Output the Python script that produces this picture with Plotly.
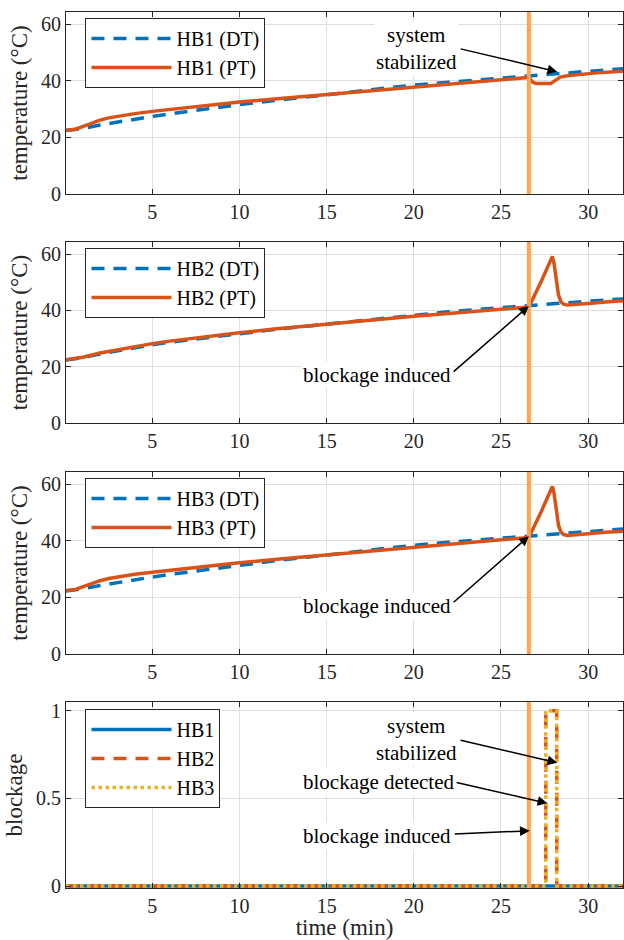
import plotly.graph_objects as go
from plotly.subplots import make_subplots

FONT = "Liberation Serif"
BLUE = "#0072BD"
ORANGE = "#D95319"
YELLOW = "#EDB120"
MARK = "#FFA64D"
AXC = "#262626"
GRID = "#DFDFDF"

# ---- time grids (min) ----
t_dt = [0.05, 1, 2, 3, 4, 5, 6, 8, 10, 12, 14, 16, 18, 20, 22, 24, 26, 28, 30, 32]

# ---- HB1 temperatures (degC) ----
hb1_dt = [22.4, 23.1, 24.4, 25.5, 26.5, 27.4, 28.3, 30.0, 31.6, 33.0, 34.4, 35.8, 37.2,
          38.5, 39.5, 40.5, 41.5, 42.5, 43.4, 44.3]
t_hb1_pt = [0.05, 0.6, 1.0, 1.5, 2.0, 2.5, 3.0, 4.0, 5.0, 6.0, 8.0, 10.0, 12.0, 14.0, 16.0,
            18.0, 20.0, 22.0, 24.0, 26.0, 26.6, 26.8, 27.0, 27.85, 28.0, 28.2, 28.4, 28.8,
            29.5, 30.5, 31.5, 32.0]
hb1_pt = [22.5, 22.9, 23.8, 25.0, 26.1, 26.9, 27.5, 28.4, 29.2, 29.9, 31.3, 32.5, 33.6, 34.6,
          35.6, 36.6, 37.8, 38.8, 39.8, 40.9, 41.2, 39.6, 39.0, 39.0, 39.6, 40.7, 41.3, 41.8,
          42.3, 42.8, 43.2, 43.4]

# ---- HB2 temperatures (degC) ----
hb2_dt = [22.4, 23.2, 24.5, 25.7, 26.8, 27.8, 28.7, 30.3, 31.8, 33.2, 34.5, 35.8, 37.1,
          38.4, 39.5, 40.5, 41.5, 42.5, 43.3, 44.1]
t_hb2_pt = [0.05, 1, 2, 3, 4, 5, 6, 8, 10, 12, 14, 16, 18, 20, 22, 24, 26, 26.6, 27.3, 27.95,
            28.05, 28.15, 28.3, 28.45, 28.6, 28.8, 29.2, 30, 31, 32]
hb2_pt = [22.5, 23.4, 24.9, 26.1, 27.2, 28.2, 29.1, 30.7, 32.1, 33.4, 34.6, 35.7, 36.8, 37.9,
          38.9, 39.9, 40.9, 41.2, 50.2, 59.2, 56.5, 51.5, 45.5, 43.0, 42.2, 41.9, 42.0, 42.5,
          43.0, 43.4]

# ---- HB3 temperatures (degC) ----
hb3_dt = [22.3, 23.0, 24.2, 25.3, 26.3, 27.2, 28.1, 29.8, 31.5, 32.9, 34.3, 35.7, 37.1,
          38.4, 39.5, 40.5, 41.5, 42.5, 43.4, 44.2]
t_hb3_pt = [0.05, 0.6, 1.0, 1.5, 2.0, 2.5, 3.0, 4.0, 5.0, 6.0, 8.0, 10.0, 12.0, 14.0, 16.0,
            18.0, 20.0, 22.0, 24.0, 26.0, 26.6, 27.3, 27.95, 28.05, 28.15, 28.3, 28.45, 28.6,
            28.8, 29.2, 30, 31, 32]
hb3_pt = [22.4, 22.8, 23.7, 24.9, 25.9, 26.7, 27.3, 28.2, 28.9, 29.6, 31.0, 32.2, 33.4, 34.5,
          35.6, 36.7, 37.8, 38.8, 39.8, 40.9, 41.2, 50.2, 59.2, 56.5, 51.5, 45.5, 43.0, 42.2,
          41.9, 42.0, 42.5, 43.0, 43.4]

# ---- blockage flags ----
t_blk1 = [0.05, 32]
blk1 = [0, 0]
t_blk = [0.05, 27.57, 27.57, 28.2, 28.2, 32]
blk2 = [0, 0, 1, 1, 0, 0]
blk3 = [0, 0, 1, 1, 0, 0]

induced_t = 26.6  # blockage induced (min)

x_ticks = [5, 10, 15, 20, 25, 30]
temp_ticks = [0, 20, 40, 60]
blk_ticks = [0, 0.5, 1]
x_range = [0.05, 32]
temp_range = [0, 64.3]
blk_range = [-0.0114, 1.0496]   # small pad below 0 so the flat flag lines are not clipped

# arrow annotations: (row, text x, text y, text, tail x, tail y, head x, head y)
notes = [
    (1, 20.14, 51.4, "system<br>stabilized", 22.6, 51.4, 28.23, 43.2),
    (2, 17.88, 16.9, "blockage induced", 22.2, 17.8, 26.6, 41.6),
    (3, 17.88, 16.9, "blockage induced", 22.2, 17.8, 26.6, 41.6),
    (4, 20.14, 0.837, "system<br>stabilized", 22.6, 0.833, 28.23, 0.703),
    (4, 17.96, 0.595, "blockage detected", 22.37, 0.593, 27.66, 0.472),
    (4, 17.88, 0.287, "blockage induced", 22.26, 0.297, 26.65, 0.315),
]

fig = make_subplots(rows=4, cols=1)

LW = 3.5
DASH = "13px,9px"

temp_sets = [
    ("HB1", hb1_dt, t_hb1_pt, hb1_pt),
    ("HB2", hb2_dt, t_hb2_pt, hb2_pt),
    ("HB3", hb3_dt, t_hb3_pt, hb3_pt),
]
legend_ids = ["legend", "legend2", "legend3", "legend4"]

for i, (name, dt, tpt, pt) in enumerate(temp_sets):
    row = i + 1
    fig.add_trace(go.Scatter(x=t_dt, y=dt, mode="lines", name=f"{name} (DT)",
                             line=dict(color=BLUE, width=LW, dash=DASH),
                             legend=legend_ids[i]), row=row, col=1)
    fig.add_trace(go.Scatter(x=tpt, y=pt, mode="lines", name=f"{name} (PT)",
                             line=dict(color=ORANGE, width=LW),
                             legend=legend_ids[i]), row=row, col=1)

fig.add_trace(go.Scatter(x=t_blk1, y=blk1, mode="lines", name="HB1",
                         line=dict(color=BLUE, width=LW), legend="legend4"), row=4, col=1)
fig.add_trace(go.Scatter(x=t_blk, y=blk2, mode="lines", name="HB2",
                         line=dict(color=ORANGE, width=LW, dash=DASH),
                         legend="legend4"), row=4, col=1)
fig.add_trace(go.Scatter(x=t_blk, y=blk3, mode="lines", name="HB3",
                         line=dict(color=YELLOW, width=LW, dash="dot"),
                         legend="legend4"), row=4, col=1)

# vertical marker where blockage is induced
for row in range(1, 5):
    xr = "x" if row == 1 else f"x{row}"
    yr = "y" if row == 1 else f"y{row}"
    fig.add_shape(type="line", x0=induced_t, x1=induced_t, y0=0, y1=1,
                  xref=xr, yref=f"{yr} domain", line=dict(color=MARK, width=4))

# panel geometry
domains = [[0.7922, 1.0], [0.5308, 0.7374], [0.2671, 0.4749], [0.0, 0.2123]]
legend_tops = [0.9932, 0.7306, 0.4680, 0.2043]

axis_common = dict(
    showline=True, linecolor=AXC, linewidth=1, mirror="ticks",
    ticks="inside", ticklen=5, tickcolor=AXC, tickwidth=1,
    showgrid=True, gridcolor=GRID, gridwidth=1, zeroline=False,
    tickfont=dict(family=FONT, size=20, color=AXC),
)

for row in range(1, 5):
    fig.update_xaxes(range=x_range, tickvals=x_ticks, domain=[0, 1], **axis_common,
                     row=row, col=1)
    ydom = domains[row - 1]
    if row < 4:
        fig.update_yaxes(range=temp_range, tickvals=temp_ticks, domain=ydom,
                         title=dict(text="temperature (°C)",
                                    font=dict(family=FONT, size=23, color=AXC), standoff=6),
                         **axis_common, row=row, col=1)
    else:
        fig.update_yaxes(range=blk_range, tickvals=blk_ticks, ticktext=["0", "0.5", "1"],
                         domain=ydom,
                         title=dict(text="blockage",
                                    font=dict(family=FONT, size=23, color=AXC), standoff=6),
                         **axis_common, row=row, col=1)

fig.update_xaxes(title=dict(text="time (min)", font=dict(family=FONT, size=23, color=AXC),
                            standoff=2), row=4, col=1)

legend_style = dict(
    x=0.035, xanchor="left", yanchor="top",
    bgcolor="white", bordercolor="#262626", borderwidth=1,
    font=dict(family=FONT, size=20, color="black"),
    itemwidth=80, tracegroupgap=0,
)
layout_legends = {}
for i, lid in enumerate(legend_ids):
    layout_legends[lid] = dict(y=legend_tops[i], **legend_style)

for row, tx, ty, text, ax_, ay_, hx, hy in notes:
    xr = "x" if row == 1 else f"x{row}"
    yr = "y" if row == 1 else f"y{row}"
    fig.add_annotation(x=hx, y=hy, ax=ax_, ay=ay_, xref=xr, yref=yr, axref=xr, ayref=yr,
                       text="", showarrow=True, arrowhead=2, arrowsize=1.3,
                       arrowwidth=1.5, arrowcolor="black", standoff=0, startstandoff=0)
    fig.add_annotation(x=tx, y=ty, xref=xr, yref=yr, text=text, showarrow=False,
                       bgcolor="white", font=dict(family=FONT, size=21, color="black"),
                       borderpad=1)

fig.update_layout(
    width=624, height=940,
    margin=dict(l=66, r=1, t=12, b=52),
    plot_bgcolor="white", paper_bgcolor="white",
    font=dict(family=FONT, color=AXC),
    showlegend=True,
    **layout_legends,
)

fig.write_html("out.html")
